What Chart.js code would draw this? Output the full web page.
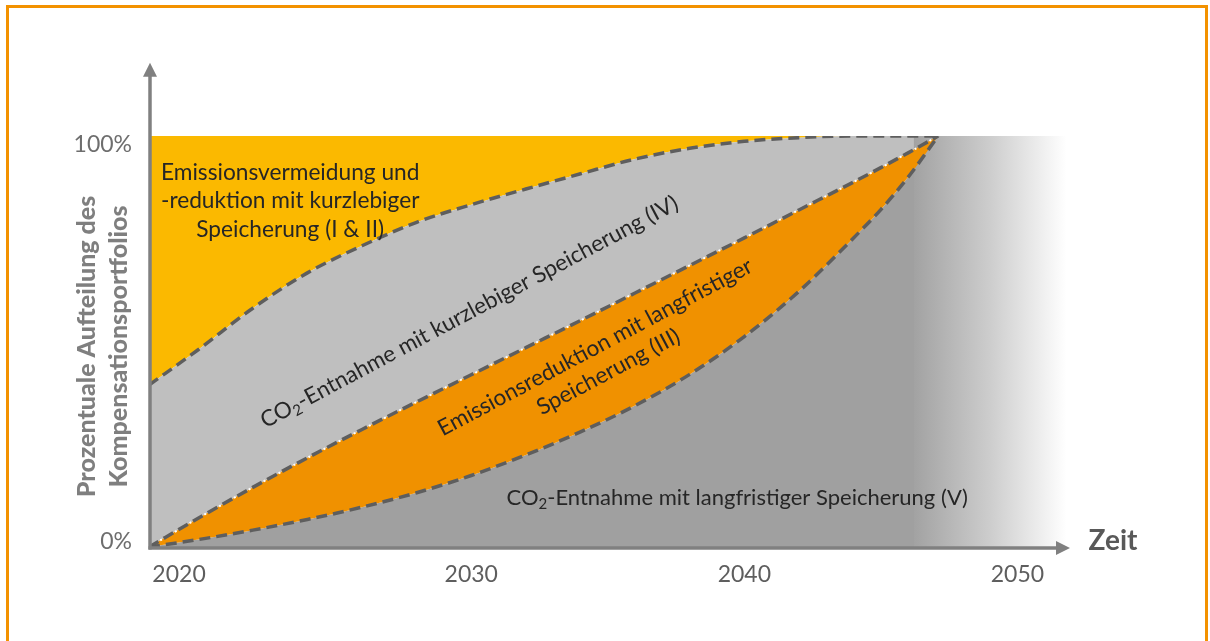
<!DOCTYPE html>
<html lang="de">
<head>
<meta charset="UTF-8">
<title>Aufteilung des Kompensationsportfolios</title>
<script src="https://cdn.jsdelivr.net/npm/chart.js"></script>
<style>
  html, body { margin: 0; padding: 0; background: #fff; }
  #wrap { position: relative; width: 1210px; height: 641px; overflow: hidden; }
  #frame {
    position: absolute; left: 6px; top: 5px; width: 1202px; height: 660px;
    border: 3px solid #f39200; box-sizing: border-box; pointer-events: none;
  }
</style>
</head>
<body>
<div id="wrap">
  <canvas id="portfolio"></canvas>
  <div id="frame"></div>
</div>
<script>
// years along the time axis (the diagram is schematic; first point sits on the y-axis)
const years = [2018.2, 2020, 2022, 2024, 2026, 2028, 2030, 2032, 2034, 2036, 2038, 2040, 2042, 2044, 2045, 2046, 2047.1];
// cumulative shares in %, from the bottom up
const topOfV   = [0, 1.8, 4.1, 6.7, 9.7, 13.2, 17.4, 22.4, 28.0, 34.4, 42.0, 51.2, 62.2, 75.2, 82.1, 90.0, 100];
const topOfIII = [0, 7.0, 14.5, 21.7, 28.6, 35.3, 41.9, 48.5, 55.1, 61.8, 68.5, 75.2, 82.0, 88.8, 92.3, 95.9, 100];
const topOfIV  = [39.4, 48.0, 58.1, 66.7, 73.3, 79.0, 83.3, 87.1, 90.8, 94.4, 97.0, 98.7, 99.6, 100, 100, 100, 100];
const topOfI   = [100, 100, 100, 100, 100, 100, 100, 100, 100, 100, 100, 100, 100, 100, 100, 100, 100];
// fade-out band after the portfolios converge
const fadeYears = [2046.2, 2051.8];
const fadeTop = [100, 100];

const xTickValues = [2019.3, 2030, 2040, 2050];
const xTickLabels = ['2020', '2030', '2040', '2050'];
const yTickValues = [1.2, 97.8];
const yTickLabels = ['0%', '100%'];

const labelI = ['Emissionsvermeidung und', '-reduktion mit kurzlebiger', 'Speicherung (I & II)'];
const labelIV = ['CO₂-Entnahme mit kurzlebiger Speicherung (IV)'];
const labelIII = ['Emissionsreduktion mit langfristiger', 'Speicherung (III)'];
const labelV = ['CO₂-Entnahme mit langfristiger Speicherung (V)'];
const yTitle = ['Prozentuale Aufteilung des', 'Kompensationsportfolios'];
const xTitle = 'Zeit';

const FONT = 'Lato';
const pts = (xs, ys) => xs.map((x, i) => ({ x: x, y: ys[i] }));

const area = { borderWidth: 0, pointRadius: 0, cubicInterpolationMode: 'monotone' };
const dashed = { borderColor: '#5e5e5e', borderWidth: 3.5, borderDash: [11, 6], pointRadius: 0, fill: false, cubicInterpolationMode: 'monotone' };

function fadeFill(context) {
  const chart = context.chart;
  if (!chart.chartArea) return '#a0a0a0';
  const xs = chart.scales.x;
  const g = chart.ctx.createLinearGradient(xs.getPixelForValue(fadeYears[0]), 0, xs.getPixelForValue(fadeYears[1]), 0);
  g.addColorStop(0, '#a2a2a2');
  g.addColorStop(0.5, '#cdcdcd');
  g.addColorStop(1, 'rgba(255,255,255,1)');
  return g;
}

// text with "₂" drawn as a real subscript 2
function drawLines(ctx, lines, cx, cy, angle, size, weight, color, lineHeight) {
  const base = weight + ' ' + size + 'px ' + FONT;
  const sub = weight + ' ' + Math.round(size * 0.66) + 'px ' + FONT;
  ctx.save();
  ctx.translate(cx, cy);
  ctx.rotate(angle);
  ctx.fillStyle = color;
  ctx.textBaseline = 'middle';
  ctx.textAlign = 'left';
  lines.forEach((line, li) => {
    const segs = line.split('₂');
    let w = 0;
    segs.forEach((s, i) => {
      ctx.font = base; w += ctx.measureText(s).width;
      if (i < segs.length - 1) { ctx.font = sub; w += ctx.measureText('2').width; }
    });
    const ly = (li - (lines.length - 1) / 2) * lineHeight;
    let lx = -w / 2;
    segs.forEach((s, i) => {
      ctx.font = base; ctx.fillText(s, lx, ly); lx += ctx.measureText(s).width;
      if (i < segs.length - 1) {
        ctx.font = sub; ctx.fillText('2', lx, ly + size * 0.28); lx += ctx.measureText('2').width;
      }
    });
  });
  ctx.restore();
}

const decor = {
  id: 'decor',
  afterDraw(chart) {
    const ctx = chart.ctx;
    const x = chart.scales.x, y = chart.scales.y;
    const ax = x.left + 1, ay = y.bottom + 1;
    ctx.save();
    ctx.strokeStyle = '#808080';
    ctx.fillStyle = '#808080';
    ctx.lineWidth = 3.5;
    // y axis with arrow
    const yTip = y.getPixelForValue(117.8);
    ctx.beginPath(); ctx.moveTo(ax, ay + 1.5); ctx.lineTo(ax, yTip + 10); ctx.stroke();
    ctx.beginPath(); ctx.moveTo(ax, yTip); ctx.lineTo(ax - 7, yTip + 14); ctx.lineTo(ax + 7, yTip + 14); ctx.closePath(); ctx.fill();
    // x axis with arrow
    const xTip = x.right - 2;
    ctx.beginPath(); ctx.moveTo(ax - 1.5, ay); ctx.lineTo(xTip - 10, ay); ctx.stroke();
    ctx.beginPath(); ctx.moveTo(xTip, ay); ctx.lineTo(xTip - 14, ay - 7); ctx.lineTo(xTip - 14, ay + 7); ctx.closePath(); ctx.fill();
    ctx.restore();

    const ang = -28 * Math.PI / 180;
    const ink = '#262626';
    drawLines(ctx, labelI, x.getPixelForValue(2023.37), y.getPixelForValue(84.2), 0, 22.7, '', ink, 28.5);
    drawLines(ctx, labelIV, x.getPixelForValue(2029.93), y.getPixelForValue(57.2), ang, 22.5, '', ink, 28);
    drawLines(ctx, labelIII, x.getPixelForValue(2034.78), y.getPixelForValue(45.6), ang, 22.5, '', ink, 28);
    drawLines(ctx, labelV, x.getPixelForValue(2039.74), y.getPixelForValue(11.9), 0, 22, '', ink, 28);
    drawLines(ctx, yTitle, 103, y.getPixelForValue(48.8), -Math.PI / 2, 25, '900', '#7f7f7f', 32);
    drawLines(ctx, [xTitle], x.right + 41, ay - 7, 0, 28, 'bold', '#595959', 30);
  }
};

new Chart(document.getElementById('portfolio'), {
  type: 'line',
  data: {
    datasets: [
      { label: 'I & II', data: pts(years, topOfI), backgroundColor: '#fbb900', fill: 1, order: 10, ...area },
      { label: 'IV', data: pts(years, topOfIV), backgroundColor: '#bfbfbf', fill: 3, order: 9, ...area },
      { label: 'V', data: pts(years, topOfV), backgroundColor: '#a0a0a0', fill: 'origin', order: 8, ...area },
      { label: 'III', data: pts(years, topOfIII), backgroundColor: '#f09100', fill: 2, order: 6, ...area },
      { label: 'fade', data: pts(fadeYears, fadeTop), backgroundColor: fadeFill, fill: 'origin', order: 7, borderWidth: 0, pointRadius: 0 },
      { label: 'III dots', data: pts(years, topOfIII), borderColor: '#ffffff', borderWidth: 2, borderDash: [2, 15], borderDashOffset: 4, pointRadius: 0, fill: false, order: 3, cubicInterpolationMode: 'monotone' },
      { label: 'IV edge', data: pts(years, topOfIV), order: 2, ...dashed },
      { label: 'III edge', data: pts(years, topOfIII), order: 1, ...dashed },
      { label: 'V edge', data: pts(years, topOfV), order: 0, ...dashed }
    ]
  },
  options: {
    responsive: true,
    maintainAspectRatio: false,
    animation: false,
    layout: { padding: { left: 64, right: 138, top: 136, bottom: 44 } },
    plugins: { legend: { display: false }, tooltip: { enabled: false } },
    scales: {
      x: {
        type: 'linear', min: 2018.2, max: 2052,
        grid: { display: false, drawTicks: false },
        border: { display: false },
        afterFit: (s) => { s.height = 50; },
        afterBuildTicks: (s) => { s.ticks = xTickValues.map(v => ({ value: v })); },
        ticks: {
          autoSkip: false, maxRotation: 0, padding: 14, color: '#5e5e5e',
          font: { family: FONT, size: 23 },
          callback: (v, i) => xTickLabels[i]
        }
      },
      y: {
        min: 0, max: 100,
        grid: { display: false, drawTicks: false },
        border: { display: false },
        afterFit: (s) => { s.width = 85; },
        afterBuildTicks: (s) => { s.ticks = yTickValues.map(v => ({ value: v })); },
        ticks: {
          padding: 17, color: '#6e6e6e',
          font: { family: FONT, size: 23 },
          callback: (v, i) => yTickLabels[i]
        }
      }
    }
  },
  plugins: [decor]
});
</script>
</body>
</html>
